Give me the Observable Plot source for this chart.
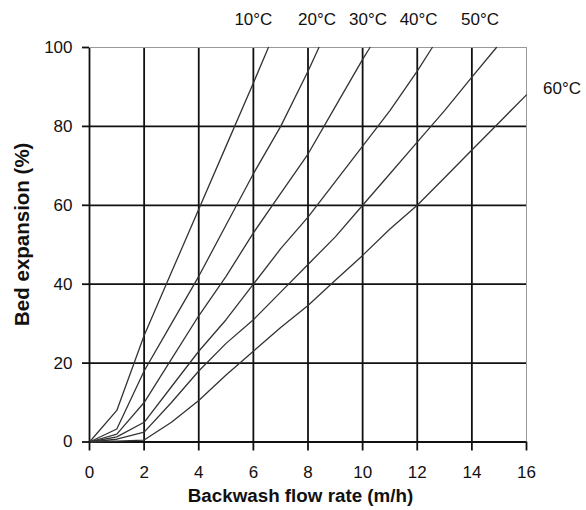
<!DOCTYPE html>
<html><head><meta charset="utf-8">
<script src="https://cdn.jsdelivr.net/npm/d3@7"></script>
<script src="https://cdn.jsdelivr.net/npm/@observablehq/plot@0.6"></script>
<style>body{margin:0;background:#fff;}</style>
</head><body><div id="chart"></div>
<script>
// Temperatures (series names)
const temps = ["10°C", "20°C", "30°C", "40°C", "50°C", "60°C"];
// Bed expansion (%) at flow rates 0,1,2,... m/h for each temperature
const exp10 = [0, 8, 27, 43, 59, 75, 91];
const exp20 = [0, 3.3, 18, 30, 42, 55, 68, 80, 94];
const exp30 = [0, 2, 10, 21, 32, 42, 53, 63, 73, 85, 97];
const exp40 = [0, 1.3, 5, 14, 23, 31, 40, 49, 57, 66, 75, 84, 94];
const exp50 = [0, 0.7, 2.5, 10, 18, 25, 31, 38, 45, 52, 60, 68, 76, 84, 92.5];
const exp60 = [0, 0.2, 0.5, 5, 10.5, 17, 23, 29, 34.6, 41, 47.3, 54, 60, 67, 74, 81, 88];
// Flow rate where each curve meets the 100 % border (null = runs to the right edge)
const topX = [6.55, 8.4, 10.27, 12.55, 14.9, null];
// Label positions (flow rate, expansion) for the temperature labels
const labelX = [6.0, 8.33, 10.2, 12.05, 14.3, 17.3];
const labelY = [107, 107, 107, 107, 107, 89.7];
// Axis ticks
const xTicks = [0, 2, 4, 6, 8, 10, 12, 14, 16];
const yTicks = [0, 20, 40, 60, 80, 100];

const series = [exp10, exp20, exp30, exp40, exp50, exp60];
const rows = [];
series.forEach((vals, i) => {
  vals.forEach((v, x) => rows.push({t: temps[i], x, y: v}));
  if (topX[i] != null) rows.push({t: temps[i], x: topX[i], y: 100});
});
const labels = temps.map((t, i) => ({t, x: labelX[i], y: labelY[i]}));

const chart = Plot.plot({
  width: 586,
  height: 510,
  marginLeft: 89,
  marginRight: 60,
  marginTop: 47,
  marginBottom: 68.5,
  style: {fontFamily: "'Liberation Sans', Arial, sans-serif", fontSize: "17px", background: "#fff", color: "#111"},
  x: {domain: [0, 16]},
  y: {domain: [0, 100]},
  marks: [
    Plot.ruleY(yTicks.filter(d => d < 100), {stroke: "#111", strokeWidth: 1.8}),
    Plot.ruleX(xTicks.filter(d => d < 16), {stroke: "#111", strokeWidth: 1.8}),
    Plot.ruleY(yTicks.filter(d => d === 100), {stroke: "#999", strokeWidth: 1}),
    Plot.ruleX(xTicks.filter(d => d === 16), {stroke: "#999", strokeWidth: 1}),
    Plot.line(rows, {x: "x", y: "y", z: "t", stroke: "#333", strokeWidth: 1.3}),
    Plot.axisX({ticks: xTicks, tickSize: 9, tickPadding: 15, label: null, stroke: "#111", strokeWidth: 1.8, fontSize: 17}),
    Plot.axisY({ticks: yTicks, tickSize: 7, tickPadding: 10, label: null, stroke: "#111", strokeWidth: 1.8, fontSize: 17}),
    Plot.text(labels, {x: "x", y: "y", text: "t", fontSize: 17, fill: "#111", clip: false}),
    Plot.text(["Backwash flow rate (m/h)"], {frameAnchor: "bottom", textAnchor: "middle", lineAnchor: "middle", dx: -7.5, dy: 54, fontWeight: "bold", fontSize: 18.8, fill: "#111"}),
    Plot.text(["Bed expansion (%)"], {frameAnchor: "left", textAnchor: "middle", lineAnchor: "middle", rotate: -90, dx: -67, dy: -10.5, fontWeight: "bold", fontSize: 20.5, fill: "#111"})
  ]
});
document.getElementById("chart").appendChild(chart);
</script>
</body></html>
